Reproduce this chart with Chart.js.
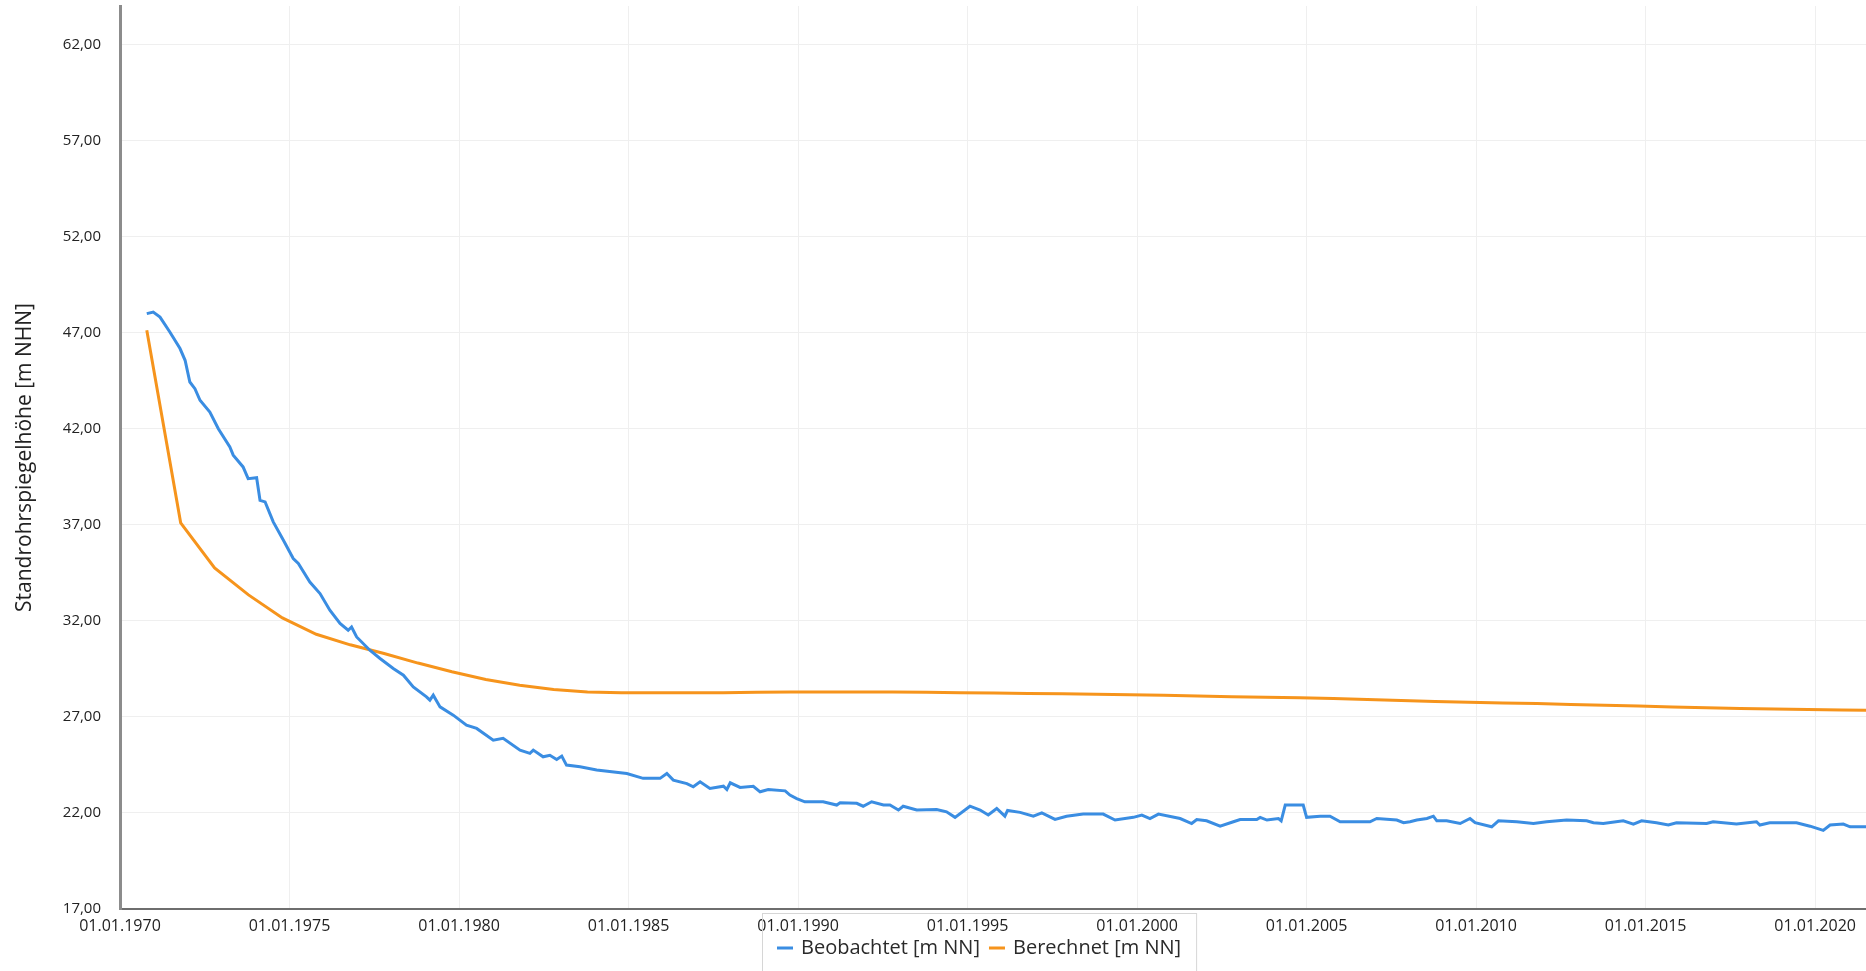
<!DOCTYPE html>
<html>
<head>
<meta charset="utf-8">
<script src="https://cdn.jsdelivr.net/npm/chart.js@4.4.1/dist/chart.umd.min.js"></script>
<style>
html,body{margin:0;padding:0;background:#fff;}
#wrap{position:relative;width:1866px;height:971px;}
</style>
</head>
<body>
<div id="wrap"><canvas id="c" width="1866" height="971"></canvas></div>
<script>
// ---- data (decimal years) ----
const obsYears = [1970.79,1970.98,1971.18,1971.47,1971.77,1971.92,1972.06,1972.21,1972.36,1972.65,1972.90,1973.24,1973.34,1973.63,1973.78,1974.03,1974.13,1974.28,1974.52,1974.82,1975.11,1975.26,1975.60,1975.90,1976.19,1976.49,1976.73,1976.83,1976.98,1977.37,1977.67,1978.06,1978.36,1978.65,1979.04,1979.14,1979.24,1979.44,1979.83,1980.22,1980.52,1981.01,1981.30,1981.80,1982.09,1982.19,1982.48,1982.68,1982.88,1983.03,1983.17,1983.57,1984.06,1984.95,1985.43,1985.93,1986.13,1986.32,1986.72,1986.91,1987.11,1987.40,1987.80,1987.90,1988.00,1988.29,1988.68,1988.88,1989.12,1989.62,1989.76,1989.96,1990.20,1990.74,1991.14,1991.24,1991.73,1991.92,1992.17,1992.52,1992.71,1992.96,1993.10,1993.50,1994.09,1994.38,1994.63,1995.07,1995.37,1995.61,1995.86,1996.10,1996.18,1996.55,1996.94,1997.19,1997.58,1997.92,1998.41,1999.00,1999.35,1999.89,2000.14,2000.38,2000.63,2001.27,2001.61,2001.76,2002.05,2002.45,2002.84,2003.04,2003.53,2003.63,2003.83,2004.17,2004.25,2004.37,2004.90,2005.00,2005.40,2005.69,2005.99,2006.87,2007.07,2007.66,2007.86,2008.05,2008.25,2008.55,2008.74,2008.84,2009.13,2009.53,2009.82,2009.97,2010.46,2010.66,2011.20,2011.69,2012.08,2012.67,2013.26,2013.46,2013.75,2014.34,2014.64,2014.88,2015.32,2015.67,2015.91,2016.80,2016.99,2017.68,2018.27,2018.37,2018.66,2019.45,2019.85,2020.24,2020.44,2020.83,2021.03,2021.50];
const obsValues = [47.99,48.07,47.81,47.03,46.17,45.56,44.43,44.08,43.48,42.87,42.00,41.05,40.62,40.01,39.40,39.45,38.27,38.19,37.15,36.19,35.24,34.98,34.02,33.42,32.55,31.86,31.51,31.68,31.16,30.47,30.04,29.52,29.17,28.56,28.04,27.87,28.13,27.52,27.09,26.57,26.40,25.79,25.88,25.27,25.10,25.27,24.92,25.00,24.78,24.96,24.49,24.40,24.23,24.05,23.80,23.80,24.05,23.71,23.53,23.36,23.62,23.27,23.39,23.22,23.57,23.33,23.39,23.10,23.22,23.15,22.93,22.75,22.58,22.58,22.41,22.53,22.50,22.35,22.58,22.41,22.41,22.15,22.35,22.15,22.18,22.06,21.77,22.35,22.15,21.89,22.23,21.83,22.13,22.03,21.83,22.00,21.66,21.83,21.94,21.94,21.63,21.77,21.89,21.71,21.94,21.71,21.45,21.66,21.59,21.31,21.54,21.66,21.66,21.77,21.63,21.71,21.59,22.41,22.41,21.77,21.83,21.83,21.54,21.54,21.71,21.63,21.49,21.54,21.63,21.71,21.83,21.59,21.59,21.45,21.71,21.49,21.28,21.59,21.54,21.45,21.54,21.63,21.59,21.49,21.45,21.59,21.42,21.59,21.49,21.37,21.49,21.45,21.54,21.42,21.54,21.37,21.49,21.49,21.31,21.09,21.37,21.42,21.28,21.28];

const calcYears = [1970.79,1971.79,1972.79,1973.79,1974.79,1975.79,1976.79,1977.79,1978.79,1979.79,1980.79,1981.79,1982.79,1983.79,1984.79,1985.79,1986.79,1987.79,1988.79,1989.79,1990.79,1991.79,1992.79,1993.79,1994.79,1995.79,1996.79,1997.79,1998.79,1999.79,2000.79,2001.79,2002.79,2003.79,2004.79,2005.79,2006.79,2007.79,2008.79,2009.79,2010.79,2011.79,2012.79,2013.79,2014.79,2015.79,2016.79,2017.79,2018.79,2019.79,2020.79,2021.79];
const calcValues = [47.12,37.10,34.75,33.35,32.15,31.30,30.75,30.30,29.80,29.35,28.95,28.65,28.42,28.30,28.26,28.25,28.25,28.26,28.28,28.30,28.30,28.30,28.29,28.28,28.26,28.24,28.22,28.20,28.18,28.15,28.12,28.08,28.05,28.02,28.00,27.95,27.90,27.85,27.80,27.76,27.72,27.69,27.65,27.60,27.56,27.52,27.48,27.44,27.41,27.38,27.36,27.33];

const xTickYears = [1970,1975,1980,1985,1990,1995,2000,2005,2010,2015,2020];
const yTickValues = [17,22,27,32,37,42,47,52,57,62];

const seriesLabels = ['Beobachtet [m NN]','Berechnet [m NN]'];
const yTitle = 'Standrohrspiegelhöhe [m NHN]';

// ---- chart ----
const BLUE = '#3a8de2';
const ORANGE = '#f6941c';

const legendBox = {
  id: 'legendBox',
  afterDraw(chart) {
    const ctx = chart.ctx;
    ctx.save();
    ctx.font = '20px "Open Sans"';
    ctx.textBaseline = 'middle';
    const items = chart.data.datasets.map(d => ({label: d.label, color: d.borderColor, w: ctx.measureText(d.label).width}));
    const markW = 16, gapMT = 8, gapItems = 9, padX = 15;
    let total = padX * 2;
    items.forEach((it, i) => { total += markW + gapMT + it.w + (i < items.length - 1 ? gapItems : 0); });
    const cx = 979.5;
    const x0 = Math.round(cx - total / 2);
    const y0 = 913, y1 = 971, ym = 948;
    ctx.strokeStyle = '#d6d6d6';
    ctx.lineWidth = 1;
    ctx.strokeRect(x0 + 0.5, y0 + 0.5, total, y1 - y0);
    let x = x0 + padX;
    items.forEach(it => {
      ctx.fillStyle = it.color;
      ctx.fillRect(x, ym - 1.5, markW, 3);
      x += markW + gapMT;
      ctx.fillStyle = '#2a2a2a';
      ctx.fillText(it.label, x, ym);
      x += it.w + gapItems;
    });
    ctx.restore();
  }
};

new Chart(document.getElementById('c'), {
  type: 'line',
  data: {
    datasets: [
      { label: seriesLabels[0], data: obsYears.map((x, i) => ({x, y: obsValues[i]})), borderColor: BLUE, backgroundColor: BLUE, borderWidth: 3, pointRadius: 0, tension: 0 },
      { label: seriesLabels[1], data: calcYears.map((x, i) => ({x, y: calcValues[i]})), borderColor: ORANGE, backgroundColor: ORANGE, borderWidth: 3, pointRadius: 0, tension: 0 }
    ]
  },
  options: {
    responsive: false,
    devicePixelRatio: 1,
    animation: false,
    layout: { padding: { top: 6, left: 0, right: 0, bottom: 0 } },
    plugins: { legend: { display: false }, tooltip: { enabled: false } },
    scales: {
      x: {
        type: 'linear',
        min: 1970, max: 2021.5,
        afterBuildTicks: s => { s.ticks = xTickYears.map(v => ({value: v})); },
        afterFit: s => { s.height = 62; s.paddingLeft = 0; s.paddingRight = 0; },
        grid: { color: '#efefef', lineWidth: 1, drawTicks: false },
        border: { color: '#6e6e6e', width: 2 },
        ticks: {
          padding: 8, maxRotation: 0, autoSkip: false,
          color: '#222', font: { family: 'Open Sans', size: 16 },
          callback: v => '01.01.' + v
        }
      },
      y: {
        type: 'linear',
        min: 17, max: 64,
        afterBuildTicks: s => { s.ticks = yTickValues.map(v => ({value: v})); },
        afterFit: s => { s.width = 120; s.paddingTop = 0; s.paddingBottom = 0; },
        grid: { color: '#efefef', lineWidth: 1, drawTicks: false },
        border: { color: '#8c8c8c', width: 3 },
        ticks: {
          padding: 19, autoSkip: false,
          color: '#222', font: { family: 'Open Sans', size: 15 },
          callback: v => v.toFixed(2).replace('.', ',')
        },
        title: {
          display: true, text: yTitle, color: '#222',
          font: { family: 'Open Sans', size: 21 },
          padding: { top: 12, bottom: 0 }
        }
      }
    }
  },
  plugins: [legendBox]
});
</script>
</body>
</html>
